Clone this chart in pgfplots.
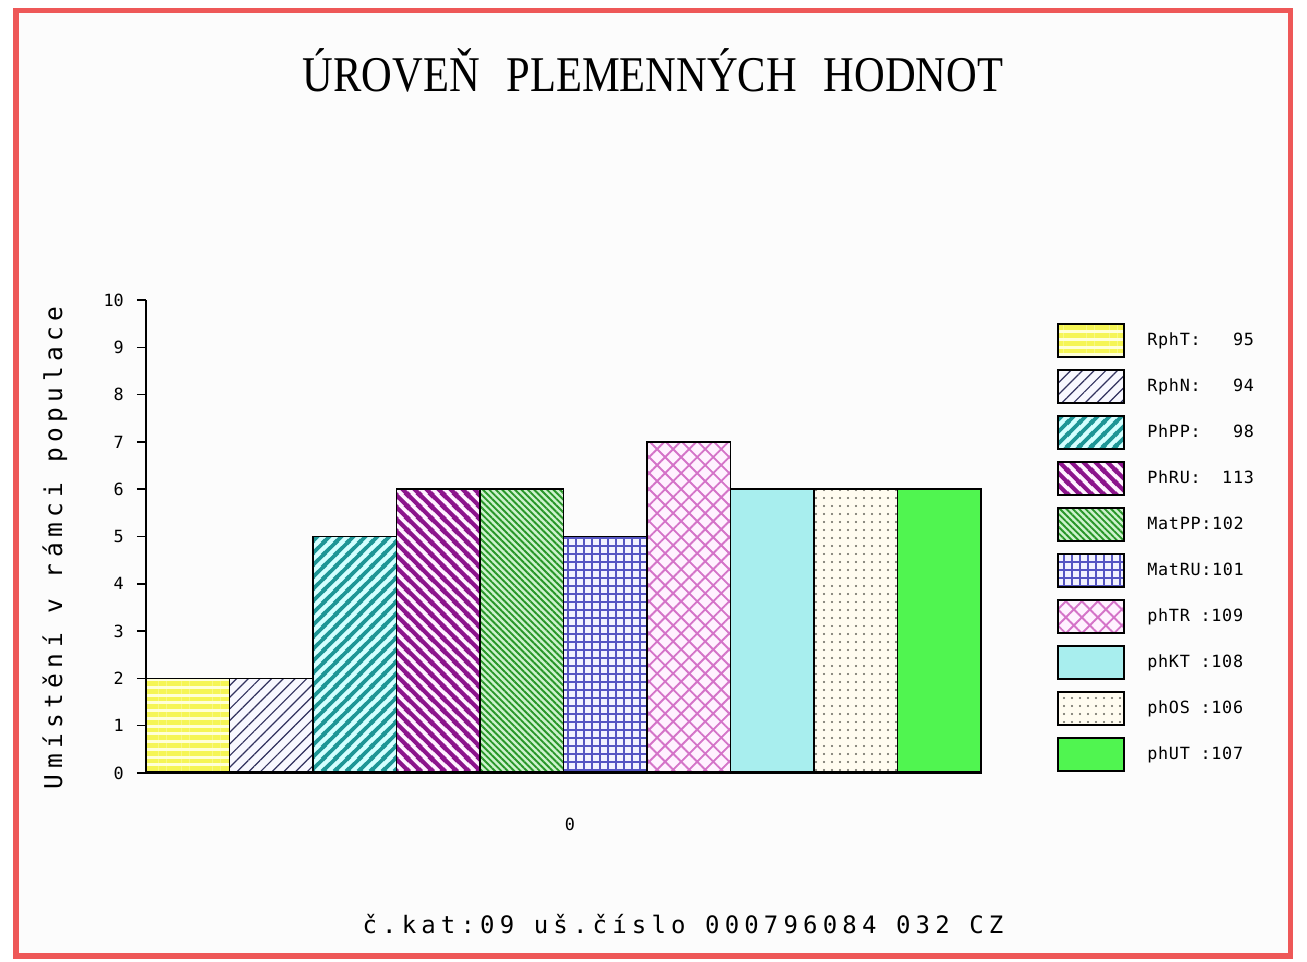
\documentclass[border=0pt]{standalone}
\usepackage{pgfplots}
\pgfplotsset{compat=1.18}
\usetikzlibrary{patterns,patterns.meta}
\usepackage{fontspec}
\setmainfont{DejaVu Sans}
\newfontfamily\titlefont[FakeStretch=0.85]{Liberation Serif}
\newfontfamily\monofont[LetterSpace=21.5]{DejaVu Sans Mono}
\newfontfamily\ylabfont[LetterSpace=22]{DejaVu Sans Mono}
\newfontfamily\legfont[LetterSpace=4]{DejaVu Sans Mono}
\newfontfamily\tickfont{DejaVu Sans Mono}

\definecolor{frame}{RGB}{238,88,88}
\definecolor{bgRphT}{RGB}{255,255,215}
\definecolor{lnRphT}{RGB}{245,245,85}
\definecolor{bgRphN}{RGB}{248,248,255}
\definecolor{lnRphN}{RGB}{50,50,95}
\definecolor{bgPhPP}{RGB}{212,255,255}
\definecolor{lnPhPP}{RGB}{30,150,150}
\definecolor{bgPhRU}{RGB}{255,242,255}
\definecolor{lnPhRU}{RGB}{140,20,140}
\definecolor{bgMatPP}{RGB}{205,242,205}
\definecolor{lnMatPP}{RGB}{40,150,40}
\definecolor{bgMatRU}{RGB}{242,242,255}
\definecolor{lnMatRU}{RGB}{85,85,195}
\definecolor{bgphTR}{RGB}{255,242,255}
\definecolor{lnphTR}{RGB}{212,115,200}
\definecolor{fphKT}{RGB}{168,238,238}
\definecolor{bgphOS}{RGB}{255,252,240}
\definecolor{lnphOS}{RGB}{100,100,90}
\definecolor{fphUT}{RGB}{80,245,80}

% thick diagonal stripes, 9pt horizontal period
\pgfdeclarepatternformonly{NEthick}{\pgfqpoint{0pt}{0pt}}{\pgfqpoint{9pt}{9pt}}{\pgfqpoint{9pt}{9pt}}{%
  \pgfsetlinewidth{2.9pt}%
  \pgfpathmoveto{\pgfqpoint{-3pt}{-3pt}}\pgfpathlineto{\pgfqpoint{12pt}{12pt}}%
  \pgfpathmoveto{\pgfqpoint{-3pt}{6pt}}\pgfpathlineto{\pgfqpoint{3pt}{12pt}}%
  \pgfpathmoveto{\pgfqpoint{6pt}{-3pt}}\pgfpathlineto{\pgfqpoint{12pt}{3pt}}%
  \pgfusepath{stroke}}
\pgfdeclarepatternformonly{NWthick}{\pgfqpoint{0pt}{0pt}}{\pgfqpoint{9pt}{9pt}}{\pgfqpoint{9pt}{9pt}}{%
  \pgfsetlinewidth{3.3pt}%
  \pgfpathmoveto{\pgfqpoint{-3pt}{12pt}}\pgfpathlineto{\pgfqpoint{12pt}{-3pt}}%
  \pgfpathmoveto{\pgfqpoint{-3pt}{3pt}}\pgfpathlineto{\pgfqpoint{3pt}{-3pt}}%
  \pgfpathmoveto{\pgfqpoint{6pt}{12pt}}\pgfpathlineto{\pgfqpoint{12pt}{6pt}}%
  \pgfusepath{stroke}}

\tikzset{
  pRphT/.style={fill=bgRphT, postaction={pattern={Lines[angle=0,distance=5.8pt,line width=3.6pt]}, pattern color=lnRphT}},
  pRphN/.style={fill=bgRphN, postaction={pattern={Lines[angle=45,distance=6.2pt,line width=0.9pt]}, pattern color=lnRphN}},
  pPhPP/.style={fill=bgPhPP, postaction={pattern=NEthick, pattern color=lnPhPP}},
  pPhRU/.style={fill=bgPhRU, postaction={pattern=NWthick, pattern color=lnPhRU}},
  pMatPP/.style={fill=bgMatPP, postaction={pattern={Lines[angle=-45,distance=3.4pt,line width=1.4pt]}, pattern color=lnMatPP}},
  pMatRU/.style={fill=bgMatRU, postaction={pattern={Hatch[angle=0,distance=6pt,line width=1.2pt]}, pattern color=lnMatRU}},
  pphTR/.style={fill=bgphTR, postaction={pattern={Hatch[angle=45,distance=8.5pt,line width=1.4pt]}, pattern color=lnphTR}},
  pphKT/.style={fill=fphKT},
  pphOS/.style={fill=bgphOS, postaction={pattern={Dots[distance=6pt,radius=0.85pt]}, pattern color=lnphOS}},
  pphUT/.style={fill=fphUT},
}

\begin{document}
\begin{tikzpicture}
\begin{scope}[x=0.75pt,y=0.75pt]
  \fill[white] (0,0) rectangle (1307,962);
  \fill[white!99!black] (16,6) rectangle (1290.5,951.5);
  \draw[frame, line width=4.1pt] (16,6) rectangle (1290.5,951.5);
  \node[anchor=base, inner sep=0pt, font=\titlefont\fontsize{37.5pt}{40pt}\selectfont] at (653,870)
    {ÚROVEŇ\hspace{20pt}PLEMENNÝCH\hspace{20pt}HODNOT};
  \node[anchor=base, inner sep=0pt, font=\monofont\fontsize{18pt}{20pt}\selectfont] at (683,28)
    {č.kat:09 uš.číslo 000796084 032 CZ};
\end{scope}

\begin{axis}[
  at={(109.5pt,141.75pt)}, anchor=south west,
  scale only axis, width=626.25pt, height=354.75pt,
  xmin=-0.5, xmax=9.5, ymin=0, ymax=10,
  clip=false, axis on top,
  axis x line*=bottom, axis y line*=left,
  axis line style={-},
  x axis line style={line width=2.25pt},
  y axis line style={line width=1.1pt},
  ytick={0,1,...,10},
  xtick={4.578}, xticklabels={0},
  xtick style={draw=none},
  ytick style={black, line width=1.1pt},
  tick align=outside, major tick length=6.75pt,
  /pgf/number format/assume math mode=true,
  ticklabel style={font=\tickfont\fontsize{12.6pt}{14pt}\selectfont},
  yticklabel style={anchor=east, inner sep=0pt, xshift=-9.75pt},
  xticklabel style={anchor=center, inner sep=0pt, yshift=-31.5pt},
  ylabel={Umístění v rámci populace},
  ylabel style={font=\ylabfont\fontsize{18.4pt}{20pt}\selectfont, at={(axis description cs:-0.109,0.476)}, anchor=center},
  legend cell align=left,
  legend image code/.code={\draw[#1, line width=1.3pt] (0pt,-12.375pt) rectangle (49.5pt,12.375pt);},
  legend style={at={(1.091,0.9514)}, anchor=north west, draw=none, fill=none,
    inner sep=0pt, outer sep=0pt, row sep=8.45pt, column sep=15pt,
    font=\legfont\fontsize{12.6pt}{14pt}\selectfont},
  every axis plot/.append style={ybar, bar width=1, bar shift=0pt, draw=black, line width=1.2pt},
]
\addplot[pRphT] coordinates {(0,2)};  \addlegendentry{RphT:~~~95}
\addplot[pRphN] coordinates {(1,2)};  \addlegendentry{RphN:~~~94}
\addplot[pPhPP] coordinates {(2,5)};  \addlegendentry{PhPP:~~~98}
\addplot[pPhRU] coordinates {(3,6)};  \addlegendentry{PhRU:~~113}
\addplot[pMatPP] coordinates {(4,6)}; \addlegendentry{MatPP:102}
\addplot[pMatRU] coordinates {(5,5)}; \addlegendentry{MatRU:101}
\addplot[pphTR] coordinates {(6,7)};  \addlegendentry{phTR~:109}
\addplot[pphKT] coordinates {(7,6)};  \addlegendentry{phKT~:108}
\addplot[pphOS] coordinates {(8,6)};  \addlegendentry{phOS~:106}
\addplot[pphUT] coordinates {(9,6)};  \addlegendentry{phUT~:107}
\end{axis}
\end{tikzpicture}
\end{document}
